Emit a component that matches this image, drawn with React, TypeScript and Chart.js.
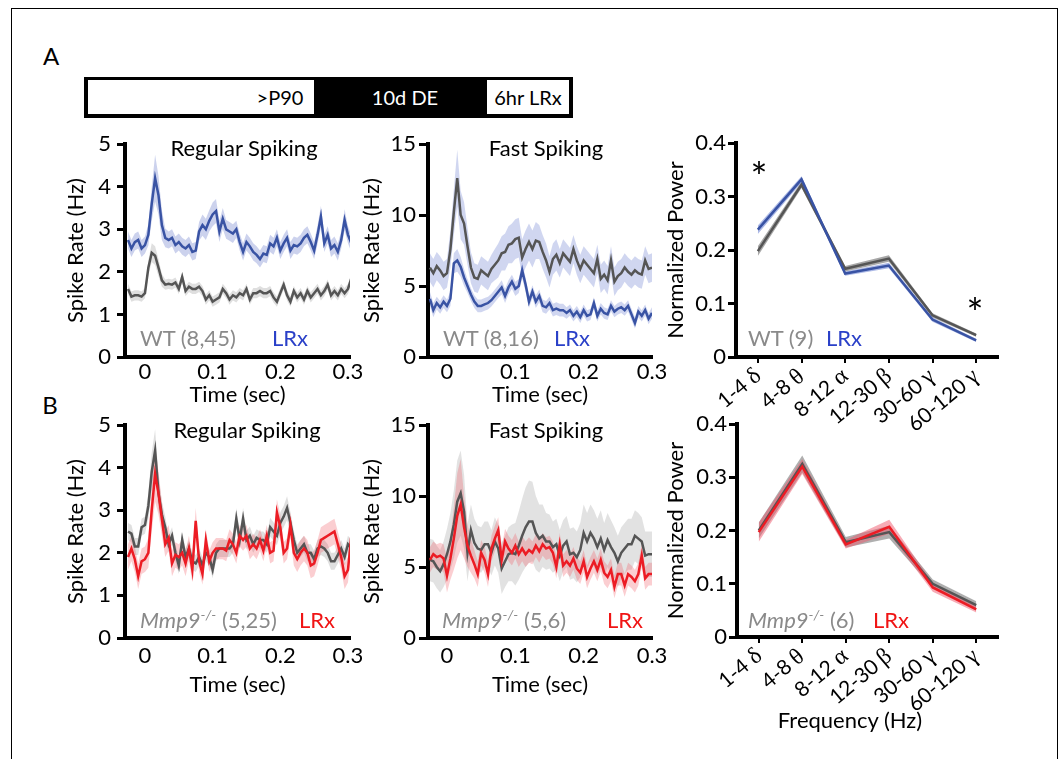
import React, { useEffect, useRef } from 'react';
import { Chart, registerables } from 'chart.js';

Chart.register(...registerables);

const FONT = 'Lato, "Liberation Serif", "DejaVu Sans", sans-serif';
const GREEK_FONT = '"GreekSerif", Lato, "DejaVu Sans", sans-serif';
const FONT_FACE = `@font-face { font-family: "GreekSerif"; src: local("Liberation Serif"), local("LiberationSerif"), local("DejaVu Serif"); unicode-range: U+0370-03FF; size-adjust: 112%; }`;

// ---------- data ----------
const times = [
  -0.025, -0.02, -0.015, -0.01, -0.005, 0, 0.005, 0.01, 0.015, 0.02,
  0.025, 0.03, 0.035, 0.04, 0.045, 0.05, 0.055, 0.06, 0.065, 0.07,
  0.075, 0.08, 0.085, 0.09, 0.095, 0.1, 0.105, 0.11, 0.115, 0.12,
  0.125, 0.13, 0.135, 0.14, 0.145, 0.15, 0.155, 0.16, 0.165, 0.17,
  0.175, 0.18, 0.185, 0.19, 0.195, 0.2, 0.205, 0.21, 0.215, 0.22,
  0.225, 0.23, 0.235, 0.24, 0.245, 0.25, 0.255, 0.26, 0.265, 0.27,
  0.275, 0.28, 0.285, 0.29, 0.295, 0.3, 0.305, 0.31,
];
const timeTicks = [0, 0.1, 0.2, 0.3];

// Panel A, regular spiking
const rsLrxA = [
  2.75, 2.55, 2.7, 2.75, 2.55, 2.63, 2.87, 3.6, 4.2, 3.8,
  3.1, 2.8, 2.75, 2.8, 2.63, 2.7, 2.6, 2.55, 2.63, 2.47,
  2.5, 2.95, 3.1, 3.0, 3.2, 3.35, 3.43, 2.95, 3.25, 3.0,
  2.95, 2.9, 3.0, 2.7, 2.47, 2.7, 2.6, 2.47, 2.4, 2.3,
  2.43, 2.4, 2.67, 2.6, 2.8, 2.5, 2.67, 2.8, 2.5, 2.63,
  2.6, 2.67, 2.8, 2.87, 2.7, 2.5, 2.87, 3.3, 2.67, 2.87,
  2.55, 2.63, 2.47, 2.75, 3.22, 2.87, 2.67, 2.6,
];
const rsLrxASem = [
  0.2, 0.2, 0.2, 0.2, 0.2, 0.2, 0.25, 0.4, 0.55, 0.45,
  0.35, 0.22, 0.2, 0.2, 0.2, 0.2, 0.2, 0.2, 0.2, 0.2,
  0.2, 0.22, 0.25, 0.25, 0.25, 0.28, 0.28, 0.25, 0.25, 0.22,
  0.22, 0.22, 0.2, 0.2, 0.2, 0.2, 0.2, 0.2, 0.2, 0.2,
  0.2, 0.2, 0.2, 0.2, 0.2, 0.2, 0.2, 0.2, 0.2, 0.2,
  0.2, 0.2, 0.2, 0.2, 0.2, 0.2, 0.22, 0.25, 0.2, 0.2,
  0.2, 0.2, 0.2, 0.2, 0.25, 0.2, 0.2, 0.2,
];
const rsWtA = [
  1.6, 1.42, 1.45, 1.45, 1.42, 1.5, 2.1, 2.45, 2.38, 2.1,
  1.8, 1.7, 1.72, 1.7, 1.75, 1.6, 1.88, 1.55, 1.65, 1.6,
  1.6, 1.65, 1.55, 1.35, 1.45, 1.3, 1.35, 1.4, 1.6, 1.5,
  1.35, 1.45, 1.4, 1.5, 1.45, 1.6, 1.35, 1.5, 1.5, 1.55,
  1.5, 1.5, 1.55, 1.4, 1.3, 1.5, 1.7, 1.45, 1.3, 1.55,
  1.4, 1.5, 1.35, 1.55, 1.4, 1.5, 1.6, 1.45, 1.55, 1.7,
  1.45, 1.55, 1.45, 1.6, 1.5, 1.6, 1.85, 1.6,
];
const rsWtASem = [
  0.12, 0.12, 0.12, 0.12, 0.12, 0.12, 0.18, 0.22, 0.22, 0.2,
  0.15, 0.12, 0.12, 0.12, 0.12, 0.12, 0.12, 0.12, 0.12, 0.12,
  0.12, 0.12, 0.12, 0.12, 0.12, 0.12, 0.12, 0.12, 0.12, 0.12,
  0.12, 0.12, 0.12, 0.12, 0.12, 0.12, 0.12, 0.12, 0.12, 0.12,
  0.12, 0.12, 0.12, 0.12, 0.12, 0.12, 0.12, 0.12, 0.12, 0.12,
  0.12, 0.12, 0.12, 0.12, 0.12, 0.12, 0.12, 0.12, 0.12, 0.12,
  0.12, 0.12, 0.12, 0.12, 0.12, 0.12, 0.12, 0.12,
];

// Panel A, fast spiking
const fsWtA = [
  6.3, 5.9, 6.4, 6.1, 5.7, 5.9, 7.6, 10.2, 12.6, 10.0,
  9.4, 7.8, 6.3, 5.6, 5.5, 6.1, 5.9, 5.7, 6.2, 6.5,
  6.8, 7.3, 7.4, 7.9, 8.0, 8.3, 8.4, 7.0, 7.6, 8.1,
  7.6, 8.2, 8.1, 7.4, 6.8, 6.0, 6.9, 7.2, 6.6, 7.3,
  7.0, 6.7, 7.6, 6.8, 6.2, 6.8, 6.5, 6.2, 5.9, 6.9,
  5.5, 5.8, 5.4, 6.8, 5.3, 5.7, 5.9, 6.3, 6.0, 5.8,
  6.1, 5.9, 5.8, 6.8, 6.2, 6.3, 6.3, 6.3,
];
const fsWtASem = [
  1.0, 1.0, 1.0, 1.0, 1.0, 1.0, 1.3, 1.6, 2.0, 1.7,
  1.5, 1.3, 1.1, 1.0, 1.0, 1.0, 1.0, 1.0, 1.0, 1.1,
  1.2, 1.2, 1.3, 1.3, 1.4, 1.4, 1.4, 1.3, 1.3, 1.3,
  1.3, 1.3, 1.2, 1.2, 1.2, 1.1, 1.1, 1.1, 1.0, 1.0,
  1.0, 1.0, 1.0, 1.0, 1.0, 1.0, 1.0, 1.0, 1.0, 1.0,
  1.0, 1.0, 1.0, 1.0, 1.0, 1.0, 1.0, 1.0, 1.0, 1.0,
  1.0, 1.0, 1.0, 1.0, 1.0, 1.0, 1.0, 1.0,
];
const fsLrxA = [
  4.1, 3.3, 3.8, 3.5, 3.9, 3.6, 4.1, 6.6, 6.8, 6.35,
  5.6, 5.0, 4.4, 3.9, 3.6, 3.6, 3.7, 3.8, 4.0, 4.3,
  4.6, 4.9, 4.3, 4.9, 5.3, 4.8, 5.0, 6.1, 5.1, 3.9,
  4.6, 3.9, 4.3, 3.6, 3.5, 3.8, 3.3, 3.4, 3.3, 3.3,
  3.1, 3.3, 2.9, 3.2, 2.8, 3.3, 2.9, 3.0, 3.8, 2.9,
  3.4, 3.1, 3.0, 3.6, 3.2, 3.4, 3.5, 3.3, 3.6, 3.0,
  2.4, 3.2, 2.9, 3.3, 2.7, 3.1, 3.0, 3.0,
];
const fsLrxASem = [
  0.5, 0.5, 0.45, 0.45, 0.45, 0.45, 0.5, 0.7, 0.8, 0.7,
  0.6, 0.5, 0.45, 0.45, 0.45, 0.45, 0.45, 0.45, 0.45, 0.45,
  0.45, 0.5, 0.5, 0.5, 0.5, 0.5, 0.5, 0.55, 0.5, 0.45,
  0.45, 0.45, 0.45, 0.45, 0.45, 0.45, 0.45, 0.45, 0.45, 0.45,
  0.4, 0.4, 0.4, 0.4, 0.4, 0.4, 0.4, 0.4, 0.4, 0.4,
  0.4, 0.4, 0.4, 0.4, 0.4, 0.4, 0.4, 0.4, 0.4, 0.4,
  0.4, 0.4, 0.4, 0.4, 0.4, 0.4, 0.4, 0.4,
];

// Panel B, regular spiking
const rsWtB = [
  2.5, 2.45, 2.15, 2.15, 2.6, 2.65, 3.1, 3.9, 4.4, 3.4,
  2.9, 2.6, 2.2, 2.4, 2.0, 1.7, 2.3, 1.9, 2.1, 1.8,
  1.75, 1.9, 1.7, 2.0, 1.9, 1.6, 2.0, 2.1, 2.1, 2.1,
  2.1, 2.2, 2.8, 2.3, 2.8, 2.3, 2.4, 2.2, 2.35, 2.3,
  2.3, 2.2, 2.6, 2.5, 2.4, 2.7, 2.85, 3.05, 2.7, 2.3,
  2.0, 2.1, 2.2, 2.0, 2.0, 1.85, 2.1, 2.15, 2.1, 2.0,
  1.8, 1.8, 1.95, 2.1, 1.9, 2.2, 2.1, 1.8,
];
const rsWtBSem = [
  0.2, 0.2, 0.2, 0.2, 0.2, 0.2, 0.3, 0.45, 0.5, 0.4,
  0.3, 0.25, 0.2, 0.2, 0.2, 0.2, 0.2, 0.2, 0.2, 0.2,
  0.2, 0.2, 0.2, 0.2, 0.2, 0.2, 0.2, 0.2, 0.2, 0.2,
  0.2, 0.2, 0.25, 0.22, 0.25, 0.22, 0.22, 0.2, 0.2, 0.2,
  0.2, 0.2, 0.22, 0.22, 0.22, 0.25, 0.25, 0.28, 0.25, 0.22,
  0.2, 0.2, 0.2, 0.2, 0.2, 0.2, 0.2, 0.2, 0.2, 0.2,
  0.2, 0.2, 0.2, 0.2, 0.2, 0.2, 0.2, 0.2,
];
const rsLrxB = [
  1.9, 2.1, 1.85, 1.45, 1.8, 1.85, 2.0, 3.0, 3.85, 3.4,
  2.8, 2.2, 2.35, 1.75, 1.95, 1.9, 2.0, 1.75, 2.1, 1.6,
  2.75, 1.8, 1.5, 2.3, 1.8, 2.0, 2.1, 2.1, 2.1, 2.05,
  2.3, 2.2, 2.0, 2.4, 2.3, 2.4, 2.1, 2.2, 2.1, 2.3,
  2.05, 2.4, 2.0, 2.05, 2.95, 2.6, 2.0, 2.1, 2.65, 2.0,
  1.85, 2.0, 2.1, 2.0, 1.7, 1.75, 2.0, 2.3, 2.35, 2.4,
  2.45, 2.5, 2.2, 1.9, 1.45, 1.6, 2.4, 2.2,
];
const rsLrxBSem = [
  0.3, 0.3, 0.3, 0.3, 0.3, 0.3, 0.35, 0.5, 0.65, 0.5,
  0.4, 0.3, 0.3, 0.3, 0.3, 0.3, 0.3, 0.3, 0.3, 0.3,
  0.3, 0.25, 0.25, 0.25, 0.25, 0.25, 0.25, 0.25, 0.25, 0.25,
  0.25, 0.25, 0.25, 0.25, 0.25, 0.25, 0.25, 0.25, 0.25, 0.25,
  0.25, 0.25, 0.25, 0.25, 0.3, 0.3, 0.25, 0.25, 0.3, 0.3,
  0.3, 0.3, 0.3, 0.3, 0.3, 0.3, 0.3, 0.3, 0.3, 0.3,
  0.3, 0.3, 0.3, 0.3, 0.3, 0.3, 0.3, 0.3,
];

// Panel B, fast spiking
const fsWtB = [
  5.5, 5.4, 5.0, 4.7, 5.2, 5.9, 6.8, 8.0, 9.6, 10.2,
  8.9, 6.0, 7.6, 6.7, 6.3, 6.2, 6.6, 6.6, 6.0, 6.8,
  6.3, 4.9, 5.4, 5.9, 6.0, 5.9, 6.5, 7.2, 7.8, 8.2,
  8.2, 7.4, 7.0, 7.2, 6.8, 6.8, 6.4, 6.6, 5.8, 6.5,
  6.8, 5.9, 6.0, 5.7, 6.2, 7.4, 6.8, 7.4, 7.0, 6.4,
  7.0, 6.2, 6.9, 6.4, 6.0, 5.4, 6.0, 6.3, 6.6, 6.6,
  7.2, 7.0, 6.8, 5.8, 5.9, 5.9, 5.9, 5.9,
];
const fsWtBSem = [
  1.5, 1.5, 1.5, 1.5, 1.6, 1.8, 2.0, 2.4, 2.9, 3.0,
  2.6, 2.0, 1.8, 1.7, 1.6, 1.6, 1.6, 1.6, 1.6, 1.7,
  1.7, 1.8, 1.8, 1.9, 2.0, 2.2, 2.4, 2.6, 2.8, 2.9,
  2.8, 2.6, 2.4, 2.2, 2.0, 1.9, 1.8, 1.8, 1.8, 1.8,
  1.8, 1.8, 1.8, 1.8, 1.9, 2.0, 2.0, 2.0, 2.0, 2.0,
  2.0, 1.9, 1.9, 1.9, 1.8, 1.8, 1.8, 1.8, 1.8, 1.8,
  1.8, 1.8, 1.7, 1.7, 1.6, 1.6, 1.6, 1.6,
];
const fsLrxB = [
  5.5, 5.9, 5.7, 5.8, 5.6, 4.4, 5.6, 7.0, 8.6, 9.4,
  7.8, 6.5, 5.8, 5.2, 4.5, 6.0, 5.5, 4.5, 6.3, 7.0,
  7.6, 5.5, 6.8, 6.3, 6.0, 6.5, 5.9, 6.3, 5.9, 6.2,
  6.0, 6.5, 6.1, 6.6, 6.3, 6.4, 6.0, 5.0, 6.6, 5.1,
  5.4, 5.1, 5.6, 4.9, 4.6, 5.4, 4.3, 4.9, 5.4, 4.8,
  5.5, 4.6, 4.3, 4.8, 3.6, 4.5, 4.5, 3.7, 4.5, 4.3,
  4.0, 4.5, 5.8, 4.2, 4.5, 4.5, 4.5, 4.5,
];
const fsLrxBSem = [
  0.9, 0.9, 0.9, 0.9, 1.0, 1.2, 1.5, 2.2, 3.0, 3.2,
  2.2, 1.5, 1.2, 1.0, 0.9, 0.9, 0.9, 0.9, 0.9, 0.9,
  0.9, 0.9, 0.9, 0.9, 0.9, 0.9, 0.9, 0.9, 0.9, 0.9,
  0.8, 0.8, 0.8, 0.8, 0.8, 0.8, 0.8, 0.8, 0.8, 0.8,
  0.8, 0.8, 0.8, 0.8, 0.8, 0.8, 0.8, 0.8, 0.8, 0.8,
  0.8, 0.8, 0.8, 0.8, 0.8, 0.8, 0.8, 0.8, 0.8, 0.8,
  0.8, 0.8, 0.8, 0.8, 0.8, 0.8, 0.8, 0.8,
];

// Power spectra
const freqBands = ['1-4 δ', '4-8 θ', '8-12 α', '12-30 β', '30-60 γ', '60-120 γ'];
const powWtA = [0.198, 0.322, 0.165, 0.184, 0.078, 0.041];
const powWtASem = [0.009, 0.006, 0.005, 0.006, 0.004, 0.003];
const powLrxA = [0.238, 0.332, 0.156, 0.171, 0.07, 0.031];
const powLrxASem = [0.008, 0.006, 0.004, 0.005, 0.004, 0.003];
const powWtB = [0.2, 0.325, 0.178, 0.197, 0.1, 0.06];
const powWtBSem = [0.015, 0.016, 0.01, 0.012, 0.008, 0.007];
const powLrxB = [0.197, 0.32, 0.174, 0.207, 0.093, 0.052];
const powLrxBSem = [0.018, 0.014, 0.008, 0.013, 0.008, 0.006];

// ---------- styles ----------
const C = {
  blueLine: '#3953a4',
  grayLine: '#555555',
  redLine: '#ec1c24',
  blueText: '#2a40c8',
  redText: '#f01414',
  grayText: '#8a8a8a',
};

type Series = { values: number[]; sem: number[]; line: string; band: string; width?: number };
type Box = { L: number; T: number; W: number; H: number; l: number; r: number; t: number; b: number };

function buildDatasets(xs: number[] | null, series: Series[]) {
  const pts = (arr: number[]) => (xs ? arr.map((v, i) => ({ x: xs[i], y: v })) : arr);
  const lines = series.map((s) => ({
    data: pts(s.values),
    borderColor: s.line,
    borderWidth: s.width ?? 2.5,
    pointRadius: 0,
    fill: false,
    tension: 0,
  }));
  const bands: any[] = [];
  series.forEach((s) => {
    bands.push({
      data: pts(s.values.map((v, i) => v + s.sem[i])),
      borderColor: 'rgba(0,0,0,0)',
      borderWidth: 1,
      backgroundColor: s.band,
      pointRadius: 0,
      fill: '+1',
      tension: 0,
    });
    bands.push({
      data: pts(s.values.map((v, i) => v - s.sem[i])),
      borderColor: 'rgba(0,0,0,0)',
      borderWidth: 1,
      pointRadius: 0,
      fill: false,
      tension: 0,
    });
  });
  return [...lines, ...bands];
}

const tickFont = { family: FONT, size: 22 };

function yScale(box: Box, max: number, step: number, title: string, titleX: number, pad: number, tickLen: number) {
  return {
    min: 0,
    max,
    afterFit: (s: any) => {
      s.width = box.l - box.L;
    },
    ticks: {
      stepSize: step,
      font: tickFont,
      color: '#000',
      padding: pad,
      callback: (v: any) => String(Math.round(Number(v) * 10) / 10),
    },
    grid: { display: true, drawOnChartArea: false, drawTicks: true, tickLength: tickLen, color: '#000', lineWidth: 3 },
    border: { display: true, width: 4, color: '#000' },
    title: {
      display: true,
      text: title,
      font: tickFont,
      color: '#000',
      padding: { top: titleX - box.L - 13.2, bottom: 0 },
    },
  };
}

function baseOptions(box: Box) {
  return {
    responsive: false,
    animation: false,
    events: [],
    layout: { padding: { left: 0, bottom: 0, top: box.t - box.T, right: box.L + box.W - box.r } },
    plugins: {
      legend: { display: false },
      tooltip: { enabled: false },
      filler: { drawTime: 'beforeDatasetsDraw', propagate: false },
    },
  };
}

function timeConfig(
  box: Box,
  series: Series[],
  xMin: number,
  xMax: number,
  yMax: number,
  yStep: number,
  p: { xLabelPad: number; xTitleY: number; yTitleX: number; yLabelPad: number; yTickLen: number }
) {
  return {
    type: 'line',
    data: { datasets: buildDatasets(times, series) },
    options: {
      ...baseOptions(box),
      scales: {
        x: {
          type: 'linear',
          min: xMin,
          max: xMax,
          afterBuildTicks: (s: any) => {
            s.ticks = timeTicks.map((v) => ({ value: v }));
          },
          afterFit: (s: any) => {
            s.height = box.T + box.H - box.b;
          },
          ticks: {
            font: tickFont,
            color: '#000',
            padding: p.xLabelPad,
            maxRotation: 0,
            autoSkip: false,
            callback: (v: any) => String(v),
          },
          grid: { display: false, drawTicks: false },
          border: { display: true, width: 4, color: '#000' },
          title: {
            display: true,
            text: 'Time (sec)',
            font: tickFont,
            color: '#000',
            padding: { top: 0, bottom: box.T + box.H - p.xTitleY - 13.2 },
          },
        },
        y: yScale(box, yMax, yStep, 'Spike Rate (Hz)', p.yTitleX, p.yLabelPad, p.yTickLen),
      },
    },
  };
}

function powerConfig(box: Box, series: Series[], yTitleX: number) {
  return {
    type: 'line',
    data: { labels: freqBands, datasets: buildDatasets(null, series) },
    options: {
      ...baseOptions(box),
      scales: {
        x: {
          type: 'category',
          offset: true,
          afterFit: (s: any) => {
            s.height = box.T + box.H - box.b;
          },
          ticks: {
            font: { family: GREEK_FONT, size: 21 },
            color: '#000',
            minRotation: 40,
            maxRotation: 40,
            autoSkip: false,
            padding: 0,
          },
          grid: { display: true, offset: false, drawOnChartArea: false, drawTicks: true, tickLength: 6, color: '#000', lineWidth: 2 },
          border: { display: true, width: 4, color: '#000' },
        },
        y: yScale(box, 0.4, 0.1, 'Normalized Power', yTitleX, 2, 8),
      },
    },
  };
}

function ChartCanvas({ box, config }: { box: Box; config: () => any }) {
  const ref = useRef<HTMLCanvasElement | null>(null);
  useEffect(() => {
    if (!ref.current) return;
    const chart = new Chart(ref.current, config());
    let alive = true;
    const fonts = (document as any).fonts;
    if (fonts && fonts.load) {
      fonts
        .load('21px "GreekSerif"', 'δθαβγ')
        .then(() => {
          if (alive) chart.update('none');
        })
        .catch(() => {});
    }
    return () => {
      alive = false;
      chart.destroy();
    };
  }, []);
  return (
    <canvas
      ref={ref}
      width={box.W}
      height={box.H}
      style={{ position: 'absolute', left: box.L, top: box.T, width: box.W, height: box.H }}
    />
  );
}

function Txt(props: {
  x: number;
  y: number;
  size?: number;
  color?: string;
  center?: boolean;
  children: React.ReactNode;
  style?: React.CSSProperties;
}) {
  const { x, y, size = 22, color = '#000', center = false, children, style } = props;
  return (
    <div
      style={{
        position: 'absolute',
        left: x,
        top: y,
        transform: center ? 'translate(-50%,-50%)' : 'translateY(-50%)',
        fontFamily: FONT,
        fontSize: size,
        lineHeight: 1,
        color,
        whiteSpace: 'nowrap',
        ...style,
      }}
    >
      {children}
    </div>
  );
}

function Mmp9({ n }: { n: string }) {
  return (
    <>
      <i>Mmp9</i>
      <span style={{ fontSize: 14, fontStyle: 'italic', position: 'relative', top: -8 }}>-/-</span>
      {' '}
      {n}
    </>
  );
}

const boxARS: Box = { L: 55, T: 125, W: 325, H: 285, l: 125, r: 350, t: 144, b: 357 };
const boxAFS: Box = { L: 355, T: 125, W: 330, H: 285, l: 428, r: 652, t: 144, b: 357 };
const boxAPW: Box = { L: 655, T: 125, W: 355, H: 320, l: 736, r: 998, t: 143, b: 357 };
const boxBRS: Box = { L: 55, T: 405, W: 325, H: 300, l: 125, r: 350, t: 425, b: 638 };
const boxBFS: Box = { L: 355, T: 405, W: 330, H: 300, l: 428, r: 652, t: 425, b: 638 };
const boxBPW: Box = { L: 655, T: 405, W: 355, H: 330, l: 737, r: 998, t: 424, b: 637 };

export default function App() {
  return (
    <div
      style={{
        position: 'absolute',
        left: 0,
        top: 0,
        width: 1059,
        height: 759,
        overflow: 'hidden',
        background: '#fff',
        fontFamily: FONT,
      }}
    >
      <style>{FONT_FACE}</style>
      {/* frame */}
      <div
        style={{
          position: 'absolute',
          left: 11,
          top: 8,
          width: 1047,
          height: 800,
          border: '1px solid #000',
          boxSizing: 'border-box',
        }}
      />

      {/* panel letters */}
      <Txt x={51} y={56} size={24} center>
        A
      </Txt>
      <Txt x={50} y={405} size={24} center>
        B
      </Txt>

      {/* timeline bar */}
      <div style={{ position: 'absolute', left: 84, top: 77, width: 489, height: 41, background: '#000' }}>
        <div style={{ position: 'absolute', left: 4, top: 3, width: 226, height: 34, background: '#fff' }} />
        <div style={{ position: 'absolute', left: 403, top: 3, width: 82, height: 34, background: '#fff' }} />
      </div>
      <Txt x={280} y={97} size={20} center>
        &gt;P90
      </Txt>
      <Txt x={405} y={97} size={20} color="#fff" center>
        10d DE
      </Txt>
      <Txt x={528} y={97} size={20} center>
        6hr LRx
      </Txt>

      {/* charts */}
      <ChartCanvas
        box={boxARS}
        config={() =>
          timeConfig(
            boxARS,
            [
              { values: rsLrxA, sem: rsLrxASem, line: C.blueLine, band: 'rgba(95,115,200,0.32)' },
              { values: rsWtA, sem: rsWtASem, line: C.grayLine, band: 'rgba(140,140,140,0.28)' },
            ],
            -0.0295,
            0.303,
            5,
            1,
            { xLabelPad: 2, xTitleY: 395, yTitleX: 76, yLabelPad: 6, yTickLen: 8 }
          )
        }
      />
      <ChartCanvas
        box={boxAFS}
        config={() =>
          timeConfig(
            boxAFS,
            [
              { values: fsLrxA, sem: fsLrxASem, line: C.blueLine, band: 'rgba(100,120,205,0.3)' },
              { values: fsWtA, sem: fsWtASem, line: C.grayLine, band: 'rgba(100,120,205,0.3)' },
            ],
            -0.0278,
            0.3,
            15,
            5,
            { xLabelPad: 2, xTitleY: 395, yTitleX: 372, yLabelPad: 3, yTickLen: 9 }
          )
        }
      />
      <ChartCanvas
        box={boxAPW}
        config={() =>
          powerConfig(
            boxAPW,
            [
              { values: powLrxA, sem: powLrxASem, line: C.blueLine, band: 'rgba(70,100,200,0.45)' },
              { values: powWtA, sem: powWtASem, line: C.grayLine, band: 'rgba(80,80,80,0.5)' },
            ],
            676
          )
        }
      />
      <ChartCanvas
        box={boxBRS}
        config={() =>
          timeConfig(
            boxBRS,
            [
              { values: rsLrxB, sem: rsLrxBSem, line: C.redLine, band: 'rgba(240,80,90,0.28)' },
              { values: rsWtB, sem: rsWtBSem, line: C.grayLine, band: 'rgba(150,150,150,0.3)' },
            ],
            -0.0295,
            0.303,
            5,
            1,
            { xLabelPad: 5, xTitleY: 685, yTitleX: 76, yLabelPad: 6, yTickLen: 8 }
          )
        }
      />
      <ChartCanvas
        box={boxBFS}
        config={() =>
          timeConfig(
            boxBFS,
            [
              { values: fsLrxB, sem: fsLrxBSem, line: C.redLine, band: 'rgba(240,80,90,0.28)' },
              { values: fsWtB, sem: fsWtBSem, line: C.grayLine, band: 'rgba(160,160,160,0.3)' },
            ],
            -0.0278,
            0.3,
            15,
            5,
            { xLabelPad: 5, xTitleY: 685, yTitleX: 372, yLabelPad: 3, yTickLen: 9 }
          )
        }
      />
      <ChartCanvas
        box={boxBPW}
        config={() =>
          powerConfig(
            boxBPW,
            [
              { values: powLrxB, sem: powLrxBSem, line: C.redLine, band: 'rgba(240,90,110,0.5)' },
              { values: powWtB, sem: powWtBSem, line: C.grayLine, band: 'rgba(110,110,110,0.55)' },
            ],
            676
          )
        }
      />

      {/* titles */}
      <Txt x={244} y={148} center>
        Regular Spiking
      </Txt>
      <Txt x={546} y={148} center>
        Fast Spiking
      </Txt>
      <Txt x={247} y={430} center>
        Regular Spiking
      </Txt>
      <Txt x={546} y={430} center>
        Fast Spiking
      </Txt>

      {/* in-panel labels */}
      <Txt x={140} y={338} color={C.grayText}>
        WT (8,45)
      </Txt>
      <Txt x={272} y={338} color={C.blueText}>
        LRx
      </Txt>
      <Txt x={443} y={338} color={C.grayText}>
        WT (8,16)
      </Txt>
      <Txt x={554} y={338} color={C.blueText}>
        LRx
      </Txt>
      <Txt x={748} y={338} color={C.grayText}>
        WT (9)
      </Txt>
      <Txt x={826} y={338} color={C.blueText}>
        LRx
      </Txt>

      <Txt x={140} y={620} color={C.grayText}>
        <Mmp9 n="(5,25)" />
      </Txt>
      <Txt x={299} y={620} color={C.redText}>
        LRx
      </Txt>
      <Txt x={442} y={620} color={C.grayText}>
        <Mmp9 n="(5,6)" />
      </Txt>
      <Txt x={607} y={620} color={C.redText}>
        LRx
      </Txt>
      <Txt x={748} y={620} color={C.grayText}>
        <Mmp9 n="(6)" />
      </Txt>
      <Txt x={873} y={620} color={C.redText}>
        LRx
      </Txt>

      {/* significance asterisks */}
      <div style={{ position: 'absolute', left: 759, top: 157, transform: 'translateX(-50%)', fontFamily: FONT, fontSize: 40, lineHeight: 1 }}>
        *
      </div>
      <div style={{ position: 'absolute', left: 975, top: 293, transform: 'translateX(-50%)', fontFamily: FONT, fontSize: 40, lineHeight: 1 }}>
        *
      </div>

      <Txt x={850} y={720} center>
        Frequency (Hz)
      </Txt>
    </div>
  );
}
